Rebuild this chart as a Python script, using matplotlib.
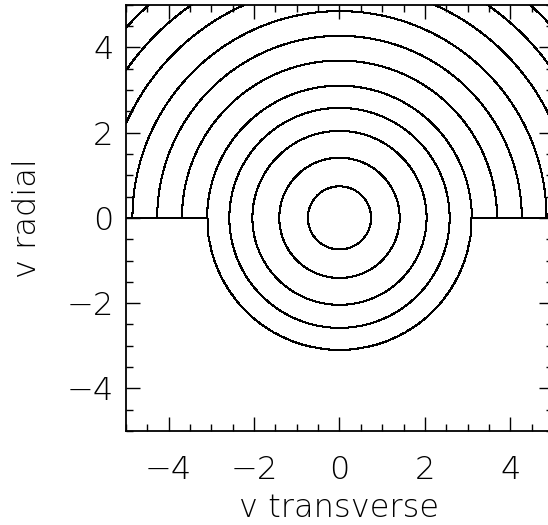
import numpy as np
import matplotlib
matplotlib.use("Agg")
import matplotlib.pyplot as plt
from matplotlib.ticker import MultipleLocator

# contour radii (velocity units)
levels = [0.74, 1.41, 2.04, 2.58, 3.10, 3.69, 4.27, 4.85, 5.47, 6.08, 6.70]
r_cut = 3.10          # below v_radial = 0 only the inner circles exist
fill_value = 1000.0   # value of the empty lower region

vx = np.linspace(-5, 5, 1001)
vy = np.linspace(-5, 5, 1001)
X, Y = np.meshgrid(vx, vy)
R = np.sqrt(X**2 + Y**2)
Z = np.where((Y < 0) & (R > r_cut), fill_value, R)

plt.rcParams['font.family'] = ['DejaVu Sans']
fig = plt.figure(figsize=(5.48, 5.25), dpi=100)
ax = fig.add_axes([0.230, 0.179, 0.779, 0.812])

ax.contour(X, Y, Z, levels=levels, colors='black', linewidths=0.75,
           antialiased=False)

ax.set_xlim(-5, 5)
ax.set_ylim(-5, 5)
ax.xaxis.set_major_locator(MultipleLocator(2))
ax.xaxis.set_minor_locator(MultipleLocator(0.5))
ax.yaxis.set_major_locator(MultipleLocator(2))
ax.yaxis.set_minor_locator(MultipleLocator(0.5))
ax.tick_params(which='both', direction='in', top=True, right=True, width=1.0)
ax.tick_params(which='major', length=10, labelsize=23)
ax.tick_params(axis='x', which='major', pad=17)
ax.tick_params(axis='y', which='major', pad=9)
ax.tick_params(which='minor', length=5)
for s in ax.spines.values():
    s.set_linewidth(1.3)
for lab in ax.get_xticklabels() + ax.get_yticklabels():
    lab.set_fontweight('light')

ax.set_xlabel('v transverse', fontsize=23, fontweight='light')
ax.set_ylabel('v radial', fontsize=23, fontweight='light')
ax.xaxis.set_label_coords(0.5, -0.145)
ax.yaxis.set_label_coords(-0.197, 0.5)

plt.savefig('out.png', dpi=100)
